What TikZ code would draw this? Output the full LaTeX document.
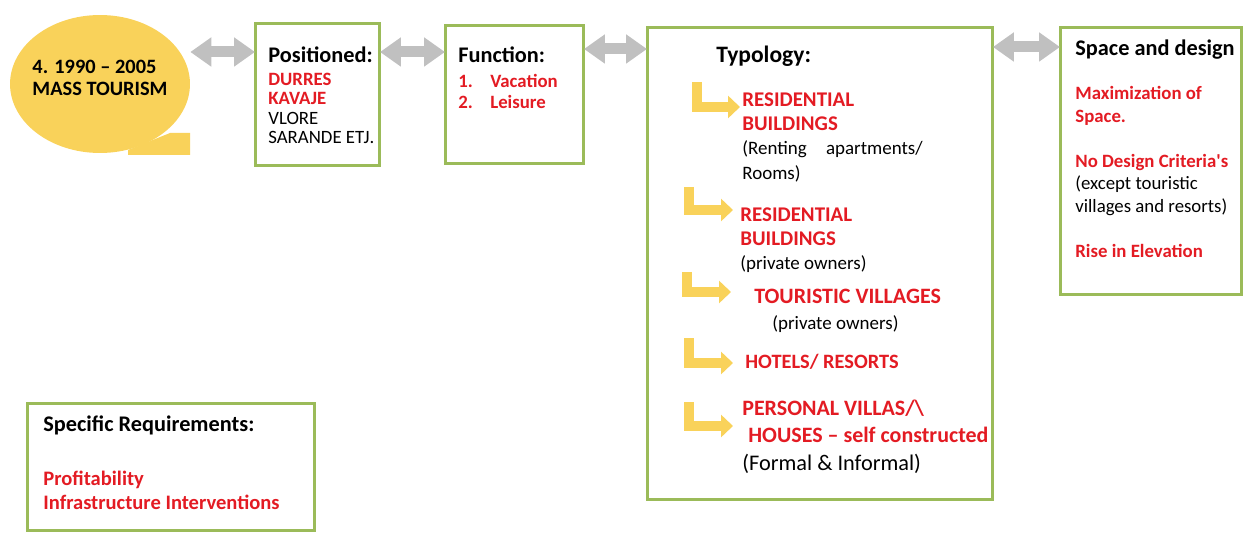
\documentclass[tikz,border=0pt]{standalone}
\usepackage{fontspec}
\setmainfont{Carlito}
\usetikzlibrary{positioning, arrows.meta, calc, shapes.geometric}
\definecolor{tourGreen}{HTML}{9BBB59}
\definecolor{tourRed}{HTML}{E31B23}
\definecolor{tourYellow}{HTML}{F9D25A}
\definecolor{tourGray}{HTML}{C0C0C0}
\newcommand{\hdfont}{\fontsize{12.7}{15}\selectfont\bfseries}
\newcommand{\smfont}{\fontsize{10.8}{13.9}\selectfont}
\newcommand{\rd}[1]{\textcolor{tourRed}{\bfseries #1}}

\begin{document}
\begin{tikzpicture}[x=0.02cm, y=-0.02cm,
box/.style={draw=tourGreen, line width=0.06cm, anchor=north west, inner sep=0pt, outer sep=0pt},
txt/.style={anchor=north west, inner sep=0pt, align=left},
garr/.style={draw=tourGray, line width=0.22cm, {Triangle[length=0.42cm, width=0.56cm]}-{Triangle[length=0.42cm, width=0.56cm]}},
larr/.style={draw=tourYellow, line width=0.19cm, -{Triangle[length=0.24cm, width=0.44cm]}}]
\useasboundingbox (0,0) rectangle (1246,533);
% period bubble
\fill[tourYellow] (128,150) -- (170,133) -- (190,133) -- (190,155) -- (128,155) -- cycle;
\node[ellipse, fill=tourYellow, minimum width=3.6cm, minimum height=2.76cm, inner sep=0pt] (bub) at (100,84) {};
\node[align=left, inner sep=0pt, font=\fontsize{11.6}{12.5}\selectfont\bfseries] (bubT) at ($(bub.center)+(0,-6)$) {4. 1990 – 2005\\MASS TOURISM};
% boxes
\node[box, minimum width=2.5cm, minimum height=2.84cm] (pos) at (255,24) {};
\node[box, minimum width=2.78cm, minimum height=2.76cm] (fun) at (445,26) {};
\node[box, minimum width=6.92cm, minimum height=9.44cm] (typ) at (647,28) {};
\node[box, minimum width=3.64cm, minimum height=5.34cm] (spc) at (1060,28) {};
\node[box, minimum width=5.76cm, minimum height=2.56cm] (spec) at (27,403) {};
% box texts
\node[txt, font=\fontsize{10.7}{11.1}\selectfont, below right=0.44cm and 0.26cm of pos.north west] (posT) {{\hdfont Positioned:}\\[0.07cm]\rd{DURRES}\\\rd{KAVAJE}\\VLORE\\SARANDE ETJ.};
\node[txt, font=\fontsize{10.7}{11.95}\selectfont, below right=0.4cm and 0.26cm of fun.north west] (funT) {{\hdfont Function:}\\[0.08cm]\rd{\makebox[0.64cm][l]{1.}Vacation}\\\rd{\makebox[0.64cm][l]{2.}Leisure}};
\node[txt, font=\fontsize{13.4}{15}\selectfont\bfseries, below right=0.36cm and 1.38cm of typ.north west] (typH) {Typology:};
\node[txt, font=\fontsize{11.9}{13.9}\selectfont, below right=1.28cm and 1.9cm of typ.north west] (ty1) {\rd{RESIDENTIAL}\\\rd{BUILDINGS}\\{\smfont(Renting\hspace{0.3cm} apartments/}\\{\smfont Rooms)}};
\node[txt, font=\fontsize{11.9}{13.9}\selectfont, below right=3.58cm and 1.86cm of typ.north west] (ty2) {\rd{RESIDENTIAL}\\\rd{BUILDINGS}\\{\smfont(private owners)}};
\node[txt, font=\fontsize{12.5}{14.8}\selectfont, below right=5.22cm and 2.14cm of typ.north west] (ty3) {\rd{TOURISTIC VILLAGES}\\\hspace*{0.36cm}{\smfont(private owners)}};
\node[txt, font=\fontsize{11.6}{13.9}\selectfont, below right=6.52cm and 1.96cm of typ.north west] (ty4) {\rd{HOTELS/ RESORTS}};
\node[txt, font=\fontsize{12.5}{15.5}\selectfont, below right=7.44cm and 1.9cm of typ.north west] (ty5) {\rd{PERSONAL VILLAS/\textbackslash}\\\hspace*{0.12cm}\rd{HOUSES – self constructed}\\{\fontsize{12.7}{15.5}\selectfont (Formal \& Informal)}};
\node[txt, font=\fontsize{10.7}{12.8}\selectfont, below right=0.22cm and 0.3cm of spc.north west] (spcT) {{\hdfont Space and design}\\[0.45cm]\rd{Maximization of}\\\rd{Space.}\\[0.45cm]\rd{No Design Criteria\textquotesingle s}\\(except touristic\\villages and resorts)\\[0.45cm]\rd{Rise in Elevation}};
\node[txt, font=\fontsize{11.7}{13.7}\selectfont, below right=0.24cm and 0.32cm of spec.north west] (specT) {{\hdfont Specific Requirements:}\\[0.6cm]\rd{Profitability}\\\rd{Infrastructure Interventions}};
% grey links
\draw[garr] ($(bub.east)+(0,-32)$) -- ($(pos.north west)+(0,28)$);
\draw[garr] ($(pos.north east)+(0,28)$) -- ($(fun.north west)+(0,26)$);
\draw[garr] ($(fun.north east)+(0,23)$) -- ($(typ.north west)+(0,21)$);
\draw[garr] ($(typ.north east)+(0,19)$) -- ($(spc.north west)+(0,19)$);
% yellow bent arrows
\foreach \i/\x/\t/\e/\h in {1/697/82/740/107, 2/689/187/733/210, 3/687/272/731/292, 4/689/338/733/363, 5/689/402/733/426}{
  \coordinate (ls\i) at (\x,\t);
  \coordinate (le\i) at (\e,\h);
  \draw[larr] (ls\i) |- (le\i);
}
\end{tikzpicture}
\end{document}
